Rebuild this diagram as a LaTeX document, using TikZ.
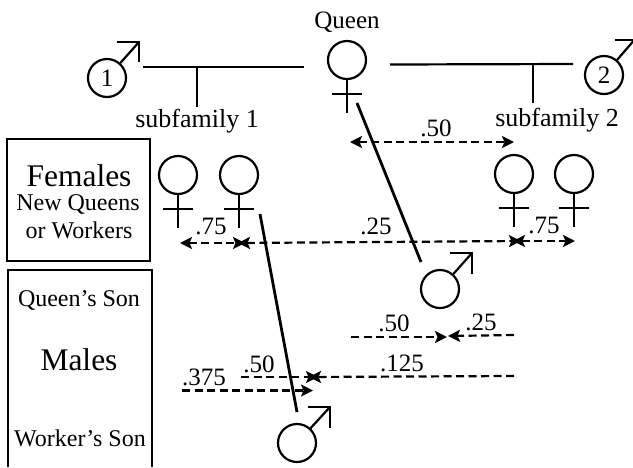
\documentclass[tikz,border=0pt]{standalone}
\usepackage{fontspec}
\setmainfont{Liberation Serif}
\usetikzlibrary{arrows.meta,calc}
\tikzset{
  sym/.style={circle,draw,line width=2.2pt,minimum size=38pt,inner sep=0pt,font=\fontsize{25}{27}\selectfont},
  solidline/.style={line width=2.2pt},
  heavyline/.style={line width=2.8pt},
  tip/.style={Stealth[length=12pt,width=12pt,inset=2.5pt]},
  ratio/.style={dash pattern=on 8pt off 4.5pt,line width=2.2pt,-{Stealth[length=12pt,width=12pt,inset=2.5pt]}},
  ratiob/.style={dash pattern=on 8pt off 4.5pt,line width=2.2pt,{Stealth[length=12pt,width=12pt,inset=2.5pt]}-{Stealth[length=12pt,width=12pt,inset=2.5pt]}},
  panel/.style={line width=1.5pt},
  big/.style={font=\fontsize{31.5}{33}\selectfont,inner sep=0pt},
  mid/.style={font=\fontsize{24}{26}\selectfont,inner sep=0pt},
  sub/.style={font=\fontsize{26}{28}\selectfont,inner sep=0pt},
  val/.style={font=\fontsize{25}{27}\selectfont,inner sep=0pt},
}
\newcommand{\femalemark}[1]{%
  \draw[solidline] (#1.south) -- ++(0,33);
  \draw[solidline] ($(#1.south)+(-15,14)$) -- ++(30,0);
}
\begin{document}
\begin{tikzpicture}[x=1pt,y=-1pt]
\useasboundingbox (0,0) rectangle (633,467);
% panels
\draw[panel] (7,261) |- (150,139) -- (150,261) -- cycle;
\draw[panel] (8,467) |- (152,270) -- (152,467);
\node[big] (lf) at (79,176) {Females};
\node[mid] (lq) at (78,204) {New Queens};
\node[mid] (lw) at (79,230) {or Workers};
\node[mid] (lqs) at (79,300) {Queen's Son};
\node[big] (lm) at (79,360) {Males};
\node[mid] (lws) at (80,438) {Worker's Son};
% texts
\node[val] (tq) at (347,22) {Queen};
\node[sub] (s1) at (197,121) {subfamily 1};
\node[sub] (s2) at (557,120) {subfamily 2};
% females
\node[sym] (q) at (347,60) {};
\node[sym] (f1) at (178,175) {};
\node[sym] (f2) at (239,175) {};
\node[sym] (f3) at (514,174) {};
\node[sym] (f4) at (574,174) {};
\femalemark{q}\femalemark{f1}\femalemark{f2}\femalemark{f3}\femalemark{f4}
% males
\node[sym] (m1) at (107,78) {1};
\node[sym] (m2) at (604,75) {2};
\node[sym] (m3) at (440,289) {};
\node[sym] (m4) at (297,443) {};
\coordinate (t1) at (139,42);
\coordinate (t2) at (636,38);
\coordinate (t3) at (472,253);
\coordinate (t4) at (330,407);
\draw[solidline] (m1) -- (t1);
\draw[solidline] (m2) -- (t2);
\draw[solidline] (m3) -- (t3);
\draw[solidline] (m4) -- (t4);
\draw[solidline] (117,42) -- (t1) -- (139,62);
\draw[solidline] (615,40) -- (633,40);
\draw[solidline] (450,253) -- (t3) -- (472,274);
\draw[solidline] (308,407) -- (t4) -- (330,428);
% mating lines
\coordinate (a1) at (143,67); \coordinate (a2) at (304,67);
\coordinate (b1) at (390,64.5); \coordinate (b2) at (573,64);
\coordinate (a3) at (197,67); \coordinate (a4) at (197,107);
\coordinate (b3) at (533,64); \coordinate (b4) at (533,103);
\draw[heavyline] (a1) -- (a2);
\draw[solidline] (a3) -- (a4);
\draw[solidline] (b1) -- (b2);
\draw[solidline] (b3) -- (b4);
% slanted
\coordinate (c1) at (357,103); \coordinate (c2) at (421,262);
\coordinate (d1) at (260,214); \coordinate (d2) at (297,412);
\draw[heavyline] (c1) -- (c2);
\draw[heavyline] (d1) -- (d2);
% ratio arrows
\coordinate (r1) at (350,142); \coordinate (r2) at (514,142);
\draw[ratiob] (r1) -- (r2);
\coordinate (r3) at (180,243); \coordinate (r4) at (245,243);
\draw[ratiob] (r3) -- (r4);
\coordinate (r5) at (238,243); \coordinate (r6) at (521,241);
\draw[ratiob] (r5) -- (r6);
\coordinate (r7) at (513,241); \coordinate (r8) at (575,241);
\draw[ratiob] (r7) -- (r8);
\coordinate (r9) at (351,337); \coordinate (r10) at (447,337);
\draw[ratio] (r9) -- (r10);
\coordinate (r11) at (514,335); \coordinate (r12) at (448,336);
\draw[ratio] (r11) -- (r12);
\coordinate (r13) at (514,376); \coordinate (r14) at (309,377);
\draw[ratio] (r13) -- (r14);
\coordinate (r15) at (241,377); \coordinate (r16) at (318,377);
\draw[ratio] (r15) -- (r16);
\coordinate (r17) at (182,390.5); \coordinate (r18) at (313,390.5);
\draw[ratio] (r17) -- (r18);
% ratio labels
\node[val] (n1) at (211,226) {.75};
\node[val] (n2) at (376,226) {.25};
\node[val] (n3) at (544,225) {.75};
\node[val] (n4) at (436,128) {.50};
\node[val] (n5) at (394,323) {.50};
\node[val] (n6) at (481,322) {.25};
\node[val] (n7) at (402,363) {.125};
\node[val] (n8) at (204,377) {.375};
\node[val] (n9) at (259,364) {.50};
\end{tikzpicture}
\end{document}
